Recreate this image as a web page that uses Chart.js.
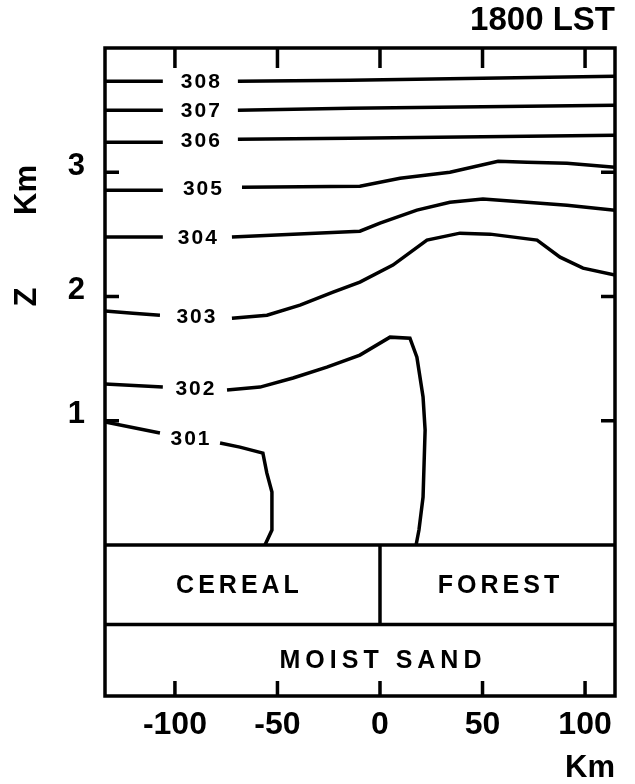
<!DOCTYPE html>
<html>
<head>
<meta charset="utf-8">
<script src="https://cdn.jsdelivr.net/npm/chart.js@4.4.0/dist/chart.umd.min.js"></script>
<style>
  html, body { margin: 0; padding: 0; background: #fff; }
  canvas { display: block; }
</style>
</head>
<body>
<canvas id="sectionChart" width="635" height="784"></canvas>
<script>
// Cross section: distance (km) and height Z (km)
const xRange = [-134.1, 114.6];
const zRange = [-1.215, 4.0];
const xTicks = [-100, -50, 0, 50, 100];
const zTicks = [1, 2, 3];

// potential temperature isolines, a null marks the gap where the label sits
const theta308X = [-134.1, -105.9, null, -69.3, -14.6, 114.6];
const theta308Z = [3.733, 3.733, null, 3.733, 3.741, 3.773];
const theta307X = [-134.1, -105.9, null, -69.3, -14.6, 114.6];
const theta307Z = [3.50, 3.50, null, 3.50, 3.516, 3.540];
const theta306X = [-134.1, -105.9, null, -69.3, -14.6, 114.6];
const theta306Z = [3.242, 3.242, null, 3.266, 3.274, 3.298];
const theta305X = [-134.1, -105.9, null, -67.3, -9.8, 9.8, 34.1, 57.6, 71.7, 91.2, 114.6];
const theta305Z = [2.856, 2.856, null, 2.880, 2.888, 2.952, 3.0, 3.089, 3.081, 3.073, 3.041];
const theta304X = [-134.1, -105.9, null, -72.2, -9.8, 0, 18.0, 34.1, 50.2, 71.7, 91.2, 114.6];
const theta304Z = [2.478, 2.478, null, 2.478, 2.526, 2.590, 2.695, 2.759, 2.784, 2.759, 2.735, 2.695];
const theta303X = [-134.1, -120.5, -107.3, null, -72.2, -55.1, -39.0, -22.9, -9.8, 6.3, 22.9, 39.0, 53.7, 76.6, 87.8, 99.0, 114.6];
const theta303Z = [1.883, 1.866, 1.850, null, 1.826, 1.850, 1.931, 2.035, 2.116, 2.253, 2.454, 2.510, 2.502, 2.454, 2.317, 2.228, 2.172];
const theta302X = [-134.1, -105.9, null, -74.6, -58.5, -42.4, -25.9, -9.8, 4.9, 14.6, 18.0, 21.0, 22.0, 21.0, 19.0, 17.6];
const theta302Z = [1.295, 1.271, null, 1.247, 1.271, 1.344, 1.432, 1.529, 1.673, 1.665, 1.512, 1.191, 0.925, 0.386, 0.121, 0];
const theta301X = [-134.1, -107.3, null, -78.0, -68.3, -57.1, -55.2, -52.7, -52.7, -56.1];
const theta301Z = [0.990, 0.901, null, 0.821, 0.788, 0.740, 0.580, 0.426, 0.121, 0];

const isolines = [
  { level: 308, x: theta308X, z: theta308Z },
  { level: 307, x: theta307X, z: theta307Z },
  { level: 306, x: theta306X, z: theta306Z },
  { level: 305, x: theta305X, z: theta305Z },
  { level: 304, x: theta304X, z: theta304Z },
  { level: 303, x: theta303X, z: theta303Z },
  { level: 302, x: theta302X, z: theta302Z },
  { level: 301, x: theta301X, z: theta301Z },
];

// surface and soil layout
const surfaceZ = 0;
const soilLayerZ = -0.64;
const landBoundaryX = 0;
const landUse = ["CEREAL", "FOREST"];
const soilType = "MOIST SAND";

const FONT = "'Liberation Sans', Arial, sans-serif";

const toPoints = (xs, zs) => xs.map((x, i) => ({ x: x, y: zs[i] }));

const lineStyle = {
  borderColor: "#000",
  borderWidth: 3.5,
  pointRadius: 0,
  fill: false,
  tension: 0,
  spanGaps: false,
};

const datasets = isolines.map((iso) => ({
  label: String(iso.level),
  data: toPoints(iso.x, iso.z),
  ...lineStyle,
}));

datasets.push({
  label: "surface",
  data: toPoints(xRange, [surfaceZ, surfaceZ]),
  ...lineStyle,
});
datasets.push({
  label: "soil",
  data: toPoints(xRange, [soilLayerZ, soilLayerZ]),
  ...lineStyle,
});
datasets.push({
  label: "landuse boundary",
  data: toPoints([landBoundaryX, landBoundaryX], [soilLayerZ, surfaceZ]),
  ...lineStyle,
});

// frame, inward ticks and in-plot labels
const sectionDecor = {
  id: "sectionDecor",
  afterDatasetsDraw(chart) {
    const { ctx, chartArea: a } = chart;
    const xs = chart.scales.x;
    const ys = chart.scales.y;
    ctx.save();
    ctx.strokeStyle = "#000";
    ctx.fillStyle = "#000";
    ctx.lineWidth = 3.5;
    ctx.strokeRect(a.left, a.top, a.right - a.left, a.bottom - a.top);

    ctx.beginPath();
    xTicks.forEach((v) => {
      const px = xs.getPixelForValue(v);
      ctx.moveTo(px, a.bottom);
      ctx.lineTo(px, a.bottom - 15);
      ctx.moveTo(px, a.top);
      ctx.lineTo(px, a.top + 20);
    });
    zTicks.forEach((v) => {
      const py = ys.getPixelForValue(v);
      ctx.moveTo(a.left, py);
      ctx.lineTo(a.left + 14, py);
      ctx.moveTo(a.right, py);
      ctx.lineTo(a.right - 14, py);
    });
    ctx.stroke();

    // isoline labels in the gaps
    ctx.font = "bold 21px " + FONT;
    ctx.letterSpacing = "2px";
    ctx.textAlign = "center";
    ctx.textBaseline = "middle";
    isolines.forEach((iso) => {
      const g = iso.x.indexOf(null);
      const lx = (iso.x[g - 1] + iso.x[g + 1]) / 2;
      const lz = (iso.z[g - 1] + iso.z[g + 1]) / 2;
      ctx.fillText(String(iso.level), xs.getPixelForValue(lx) + 1, ys.getPixelForValue(lz) + 1);
    });

    // land use and soil names
    ctx.font = "bold 25px " + FONT;
    ctx.letterSpacing = "4px";
    const landY = ys.getPixelForValue((surfaceZ + soilLayerZ) / 2) + 1;
    ctx.fillText(landUse[0], xs.getPixelForValue((xRange[0] + landBoundaryX) / 2) - 3, landY);
    ctx.fillText(landUse[1], xs.getPixelForValue((landBoundaryX + xRange[1]) / 2) + 3, landY);
    ctx.letterSpacing = "5px";
    ctx.fillText(soilType, xs.getPixelForValue(landBoundaryX) + 3, ys.getPixelForValue((soilLayerZ + zRange[0]) / 2) + 1);

    // vertical axis title
    ctx.letterSpacing = "0px";
    ctx.font = "bold 31px " + FONT;
    [["Km", 190], ["Z", 297]].forEach(([t, py]) => {
      ctx.save();
      ctx.translate(27, py);
      ctx.rotate(-Math.PI / 2);
      ctx.fillText(t, 0, 0);
      ctx.restore();
    });
    ctx.restore();
  },
};

const ctx = document.getElementById("sectionChart").getContext("2d");
const sectionChart = new Chart(ctx, {
  type: "line",
  data: { datasets: datasets },
  options: {
    responsive: false,
    animation: false,
    events: [],
    layout: { padding: { top: 0, right: 20, bottom: 0, left: 0 } },
    plugins: {
      legend: { display: false },
      tooltip: { enabled: false },
      title: {
        display: true,
        text: "1800 LST",
        align: "end",
        color: "#000",
        font: { family: FONT, size: 33, weight: "bold", lineHeight: 1.2 },
        padding: { top: 1, bottom: 7.4 },
      },
    },
    scales: {
      x: {
        type: "linear",
        min: xRange[0],
        max: xRange[1],
        grid: { display: false, drawTicks: false },
        border: { display: false },
        afterBuildTicks: (scale) => {
          scale.ticks = xTicks.map((v) => ({ value: v }));
        },
        afterFit: (scale) => {
          scale.height = 88;
        },
        ticks: {
          color: "#000",
          padding: 10,
          maxRotation: 0,
          font: { family: FONT, size: 32, weight: "bold", lineHeight: 1.2 },
        },
        title: {
          display: true,
          text: "Km",
          align: "end",
          color: "#000",
          padding: 0,
          font: { family: FONT, size: 31, weight: "bold", lineHeight: 1.0 },
        },
      },
      y: {
        type: "linear",
        min: zRange[0],
        max: zRange[1],
        grid: { display: false, drawTicks: false },
        border: { display: false },
        afterBuildTicks: (scale) => {
          scale.ticks = zTicks.map((v) => ({ value: v }));
        },
        afterFit: (scale) => {
          scale.width = 105;
        },
        ticks: {
          color: "#000",
          padding: 20,
          labelOffset: -6,
          font: { family: FONT, size: 31, weight: "bold", lineHeight: 1.2 },
        },
      },
    },
  },
  plugins: [sectionDecor],
});
</script>
</body>
</html>
